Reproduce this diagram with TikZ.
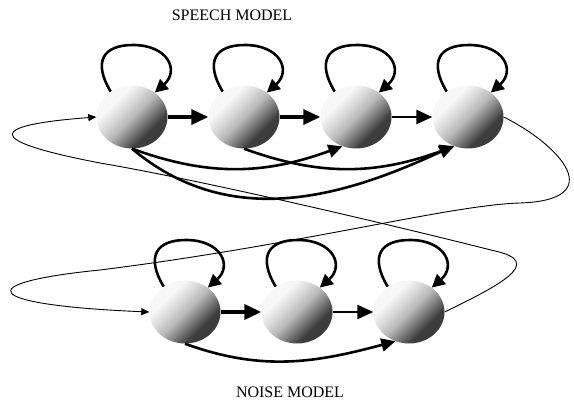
\documentclass[tikz,border=0pt]{standalone}
\usepackage{fontspec}
\setmainfont{Liberation Serif}
\usetikzlibrary{arrows.meta,shapes.geometric,calc}
\pgfdeclareverticalshading{nodeshade}{100bp}{color(0bp)=(black!78); color(33bp)=(black!76); color(41bp)=(black!52); color(50bp)=(black!27); color(58bp)=(black!15); color(67bp)=(black!3); color(100bp)=(black!3)}
\begin{document}
\begin{tikzpicture}[x=1pt,y=1pt,
  state/.style={ellipse, minimum width=71pt, minimum height=63pt, inner sep=0pt,
    shade, shading=nodeshade, shading angle=45},
  fwd/.style={line width=3.5pt, -{Triangle[length=17pt,width=15pt]}},
  fwdthin/.style={line width=2.6pt, -{Triangle[length=16pt,width=14pt]}},
  selfloop/.style={line width=2.6pt, -{Triangle[length=13pt,width=13pt]}},
  skip/.style={line width=2.6pt, -{Triangle[length=14pt,width=13pt]}},
  cross/.style={line width=0.9pt, -{Triangle[length=8pt,width=7pt]}},
  title/.style={font=\fontsize{16}{19}\selectfont}]
\useasboundingbox (0,0) rectangle (574,-414);

\node[title] (t1) at (232,-15) {SPEECH MODEL};
\node[title] (t2) at (290,-392) {NOISE MODEL};

\node[state] (s1) at (132,-117) {};
\node[state] (s2) at (244,-117) {};
\node[state] (s3) at (356,-117) {};
\node[state] (s4) at (468,-117) {};
\node[state] (n1) at (185,-312) {};
\node[state] (n2) at (297,-312) {};
\node[state] (n3) at (409,-312) {};

\foreach \n in {s1,s2,s3,s4,n1,n2,n3}{
  \draw[selfloop] (\n.130) .. controls +(-18,30) and +(-30,0) .. ($(\n.center)+(1,72)$)
     .. controls +(35,0) and +(25,22) .. (\n.47);
}

\draw[fwd] (s1) -- (s2);
\draw[fwd] (s2) -- (s3);
\draw[fwdthin] (s3) -- (s4);
\draw[fwd] (n1) -- (n2);
\draw[fwdthin] (n2) -- (n3);

\draw[skip] (s1.south) to[out=-20, in=200] (s3.245);
\draw[skip] (s2.south) to[out=-20, in=200] (s4.245);
\draw[skip] (s1.south) to[out=-40, in=205] (s4.243);
\draw[skip] (n1.south) to[out=-20, in=195] (n3.245);

\draw[cross] (n3.east) .. controls (500,-285) and (545,-262) .. (495,-251)
  .. controls (380,-222) and (200,-180) .. (100,-163)
  .. controls (-20,-140) and (-10,-125) .. (s1.west);
\draw[cross] (s4.east) .. controls (560,-145) and (610,-200) .. (520,-203)
  .. controls (450,-205) and (300,-245) .. (100,-270)
  .. controls (-30,-283) and (-20,-305) .. (n1.west);
\end{tikzpicture}
\end{document}
